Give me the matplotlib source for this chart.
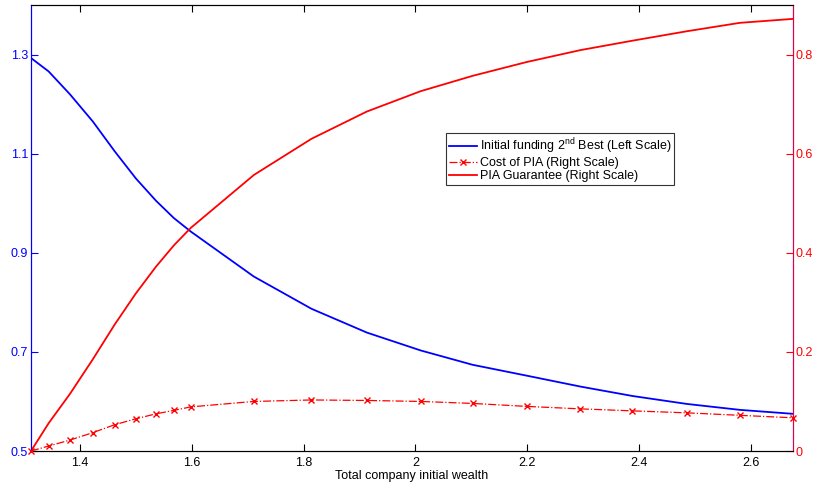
import matplotlib
matplotlib.use("Agg")
import matplotlib.pyplot as plt

plt.rcParams['font.family'] = ['Liberation Sans', 'DejaVu Sans']
plt.rcParams['mathtext.fontset'] = 'custom'
plt.rcParams['mathtext.rm'] = 'Liberation Sans'
plt.rcParams['mathtext.it'] = 'Liberation Sans:italic'

wealth = [1.3125, 1.344, 1.382, 1.423, 1.462, 1.500, 1.536, 1.568, 1.598, 1.711,
          1.814, 1.913, 2.009, 2.102, 2.199, 2.295, 2.388, 2.485, 2.580, 2.675]
funding = [1.293, 1.266, 1.220, 1.165, 1.105, 1.050, 1.005, 0.970, 0.943, 0.852,
           0.787, 0.739, 0.703, 0.674, 0.652, 0.630, 0.611, 0.595, 0.583, 0.575]
cost_pia = [0.000, 0.010, 0.022, 0.037, 0.053, 0.065, 0.075, 0.082, 0.089, 0.100,
            0.103, 0.102, 0.100, 0.096, 0.090, 0.085, 0.081, 0.077, 0.072, 0.067]
guarantee = [0.000, 0.056, 0.115, 0.185, 0.255, 0.318, 0.372, 0.415, 0.450, 0.557,
             0.630, 0.685, 0.726, 0.757, 0.785, 0.809, 0.828, 0.847, 0.864, 0.872]

left_ticks = [0.5, 0.7, 0.9, 1.1, 1.3]
right_ticks = [0, 0.2, 0.4, 0.6, 0.8]
x_ticks = [1.4, 1.6, 1.8, 2.0, 2.2, 2.4, 2.6]

fig = plt.figure(figsize=(8.15, 4.84), dpi=100)
ax = fig.add_axes([31/815, 33/484, (793-31)/815, (451-5)/484])
ax2 = ax.twinx()

l1, = ax.plot(wealth, funding, color='#0000ff', lw=1.3)
l2, = ax2.plot(wealth, cost_pia, color='#ff0000', lw=0.9, ls='-.', marker='x',
               ms=5, mew=1.0, clip_on=False, zorder=5)
l3, = ax2.plot(wealth, guarantee, color='#ff0000', lw=1.3)

ax.set_xlim(1.3125, 2.675)
ax.set_ylim(0.5, 1.4)
ax2.set_ylim(0, 0.9)

ax.set_xticks(x_ticks)
ax.set_xticklabels(['1.4', '1.6', '1.8', '2', '2.2', '2.4', '2.6'])
ax.set_yticks(left_ticks)
ax.set_yticklabels(['0.5', '0.7', '0.9', '1.1', '1.3'])
ax2.set_yticks(right_ticks)
ax2.set_yticklabels(['0', '0.2', '0.4', '0.6', '0.8'])

ax.tick_params(axis='x', direction='in', top=True, length=5, width=0.8,
               labelsize=9, colors='black', pad=4)
ax.tick_params(axis='y', direction='in', length=5, width=0.8, labelsize=9,
               colors='#0000ff', pad=2)
ax2.tick_params(axis='y', direction='in', length=5, width=0.8, labelsize=9,
                colors='#ff0000', pad=2)

for a in (ax, ax2):
    a.spines['top'].set_color('black')
    a.spines['bottom'].set_color('black')
ax.spines['left'].set_color('#0000ff')
ax2.spines['left'].set_color('#0000ff')
ax.spines['right'].set_color('#c0208a')
ax2.spines['right'].set_color('#e0004a')

ax.set_xlabel('Total company initial wealth', fontsize=9, labelpad=1)

leg = ax2.legend([l1, l2, l3],
                 ['Initial funding 2$^{\\rm nd}$ Best (Left Scale)',
                  'Cost of PIA (Right Scale)',
                  'PIA Guarantee (Right Scale)'],
                 loc='upper left', bbox_to_anchor=(446/815, 1 - 133/484),
                 bbox_transform=fig.transFigure, fontsize=9, frameon=True,
                 fancybox=False, edgecolor='black', handlelength=2.2,
                 handletextpad=0.25, borderpad=0.25, labelspacing=0.1,
                 borderaxespad=0)
leg.get_frame().set_linewidth(0.8)

fig.savefig('out.png', dpi=100)
